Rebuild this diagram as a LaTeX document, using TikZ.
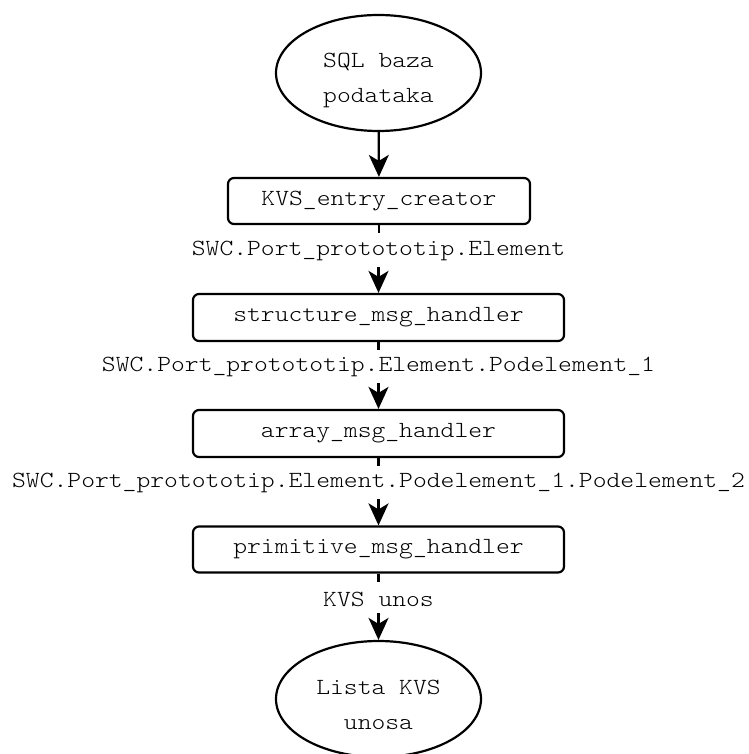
\documentclass[tikz,border=0pt]{standalone}
\usepackage{fontspec}
\newfontfamily\courfont{Latin Modern Mono Light}[FakeStretch=1.14]
\usetikzlibrary{shapes.geometric,arrows.meta}
\begin{document}
\begin{tikzpicture}[x=1pt,y=-1pt,
  font=\courfont\fontsize{23.1}{35}\selectfont,
  ell/.style={draw,line width=2.2pt,ellipse,minimum width=205pt,minimum height=116pt,inner sep=0pt},
  elltext/.style={inner sep=0pt,align=center},
  procbox/.style={draw,line width=2.2pt,rectangle,rounded corners=6pt,minimum width=371pt,minimum height=46pt,inner sep=0pt},
  lbl/.style={inner sep=0pt},
  conn/.style={line width=2.2pt},
  arr/.style={line width=2.2pt,-{Stealth[length=22pt,width=20pt,inset=6pt]}}]
\useasboundingbox (0,0) rectangle (748,754);
\node[ell] (db) at (378.5,73) {};
\node[elltext] (dbt) at (378.5,80) {SQL baza\\podataka};
\node[procbox,minimum width=302pt] (kvs) at (379,201) {KVS\_entry\_creator};
\node[lbl] (l1) at (378.5,251) {SWC.Port\_protototip.Element};
\node[procbox,minimum height=47pt] (st) at (378.5,317.5) {structure\_msg\_handler};
\node[lbl] (l2) at (378.5,367) {SWC.Port\_protototip.Element.Podelement\_1};
\node[procbox,minimum height=47pt] (ar) at (378.5,433.5) {array\_msg\_handler};
\node[lbl] (l3) at (378.5,483) {SWC.Port\_protototip.Element.Podelement\_1.Podelement\_2};
\node[procbox] (pr) at (378.5,549.5) {primitive\_msg\_handler};
\node[lbl] (l4) at (378.5,599) {KVS unos};
\node[ell] (out) at (378.5,699) {};
\node[elltext] (outt) at (378.5,705) {Lista KVS\\unosa};
\draw[arr] (db) -- (kvs);
\draw[conn] (kvs.south) -- ([yshift=-8pt]kvs.south);
\draw[arr] ([yshift=-16pt]l1.center) -- (st.north);
\draw[conn] (st.south) -- ([yshift=-8pt]st.south);
\draw[arr] ([yshift=-16pt]l2.center) -- (ar.north);
\draw[conn] (ar.south) -- ([yshift=-8pt]ar.south);
\draw[arr] ([yshift=-16pt]l3.center) -- (pr.north);
\draw[conn] (pr.south) -- ([yshift=-8pt]pr.south);
\draw[arr] ([yshift=-14pt]l4.center) -- (out.north);
\end{tikzpicture}
\end{document}
